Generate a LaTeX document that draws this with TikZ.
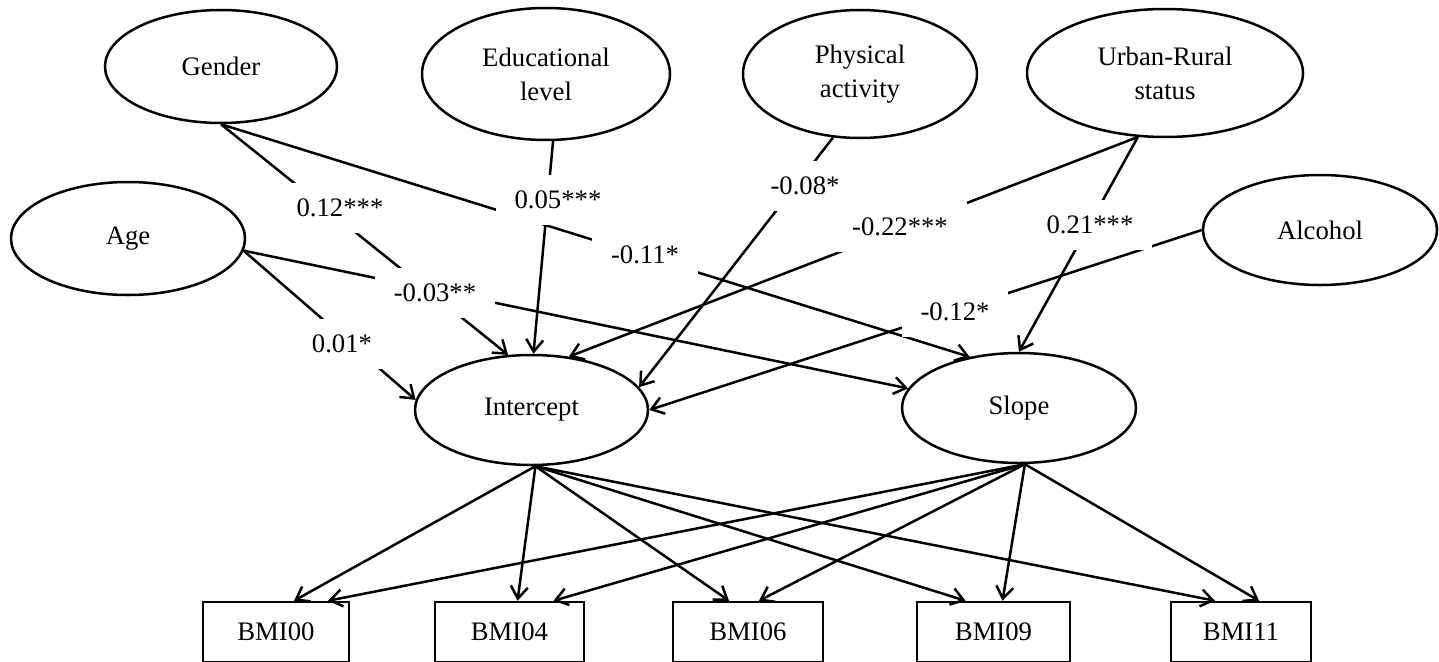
\documentclass[tikz,border=0pt]{standalone}
\usepackage{fontspec}
\setmainfont{Liberation Serif}
\usetikzlibrary{shapes.geometric, arrows.meta, calc}

\tikzset{
    var/.style={ellipse, draw, line width=2.5pt, inner sep=0pt, align=center, font=\fontsize{26.7}{34}\selectfont},
    obs/.style={rectangle, draw, line width=2.5pt, inner sep=0pt, minimum height=60pt, font=\fontsize{26.7}{34}\selectfont},
    eff/.style={line width=2.5pt, -{Straight Barb[length=12pt, width=17pt]}},
    coef/.style={fill=white, inner xsep=19pt, inner ysep=0pt, minimum height=50pt, font=\fontsize{26.7}{34}\selectfont}
}

\begin{document}
\begin{tikzpicture}[x=1pt, y=-1pt]
        \useasboundingbox (0,0) rectangle (1439,661);

        \node[var, minimum width=232pt, minimum height=113pt] (gen) at (221, 66.5) {Gender};
        \node[var, minimum width=248pt, minimum height=132pt] (edu) at (546, 74) {Educational\\level};
        \node[var, minimum width=234pt, minimum height=128pt] (phys) at (860, 74) {Physical\\activity};
        \node[var, minimum width=276pt, minimum height=128pt] (urb) at (1165, 73) {Urban-Rural\\status};
        \node[var, minimum width=234pt, minimum height=113pt] (age) at (128, 238.5) {Age};
        \node[var, minimum width=234pt, minimum height=110pt] (alc) at (1320, 230) {Alcohol};

        \node[var, minimum width=233pt, minimum height=110pt] (int) at (531.5, 410) {Intercept};
        \node[var, minimum width=234pt, minimum height=110pt] (slo) at (1019, 408) {Slope};

        \node[obs, minimum width=146pt] (b00) at (276, 632) {BMI00};
        \node[obs, minimum width=149pt] (b04) at (509.5, 632) {BMI04};
        \node[obs, minimum width=150pt] (b06) at (748, 632) {BMI06};
        \node[obs, minimum width=153pt] (b09) at (993.5, 632) {BMI09};
        \node[obs, minimum width=140pt] (b11) at (1241, 632) {BMI11};

        \draw[eff] (gen.south) -- (int.113);
        \draw[eff] (gen.south) -- (slo.134);
        \draw[eff] (edu.-84) -- (int.88);
        \draw[eff] (age.-6) -- (int.175);
        \draw[eff] (age.-6) -- (slo.170);
        \draw[eff] (phys.-113) -- (int.12);
        \draw[eff] (urb.-113) -- (int.55);
        \draw[eff] (urb.-113) -- (slo.north);
        \draw[eff] (alc.west) -- (int.east);

        \draw[eff] (int.-86) -- ($(b00.north)+(18,0)$);
        \draw[eff] (int.-86) -- ($(b04.north)+(8,0)$);
        \draw[eff] (int.-86) -- ($(b06.north)+(-19,0)$);
        \draw[eff] (int.-86) -- ($(b09.north)+(-28,0)$);
        \draw[eff] (int.-86) -- ($(b11.north)+(-26,0)$);
        \draw[eff] (slo.-84) -- ($(b00.north)+(52,0)$);
        \draw[eff] (slo.-84) -- ($(b04.north)+(44,0)$);
        \draw[eff] (slo.-84) -- ($(b06.north)+(11,0)$);
        \draw[eff] (slo.-84) -- ($(b09.north)+(9,0)$);
        \draw[eff] (slo.-84) -- ($(b11.north)+(18,0)$);

        \node[coef] (c-gi) at (340, 208) {0.12***};
        \node[coef] (c-ei) at (558, 200) {0.05***};
        \node[coef] (c-as) at (435, 293) {-0.03**};
        \node[coef] (c-ai) at (342, 344) {0.01*};
        \node[coef] (c-gs) at (645, 255) {-0.11*};
        \node[coef] (c-pi) at (805, 186) {-0.08*};
        \node[coef] (c-ui) at (900, 227) {-0.22***};
        \node[coef] (c-us) at (1090, 225) {0.21***};
        \node[coef] (c-li) at (955, 312) {-0.12*};
\end{tikzpicture}
\end{document}
